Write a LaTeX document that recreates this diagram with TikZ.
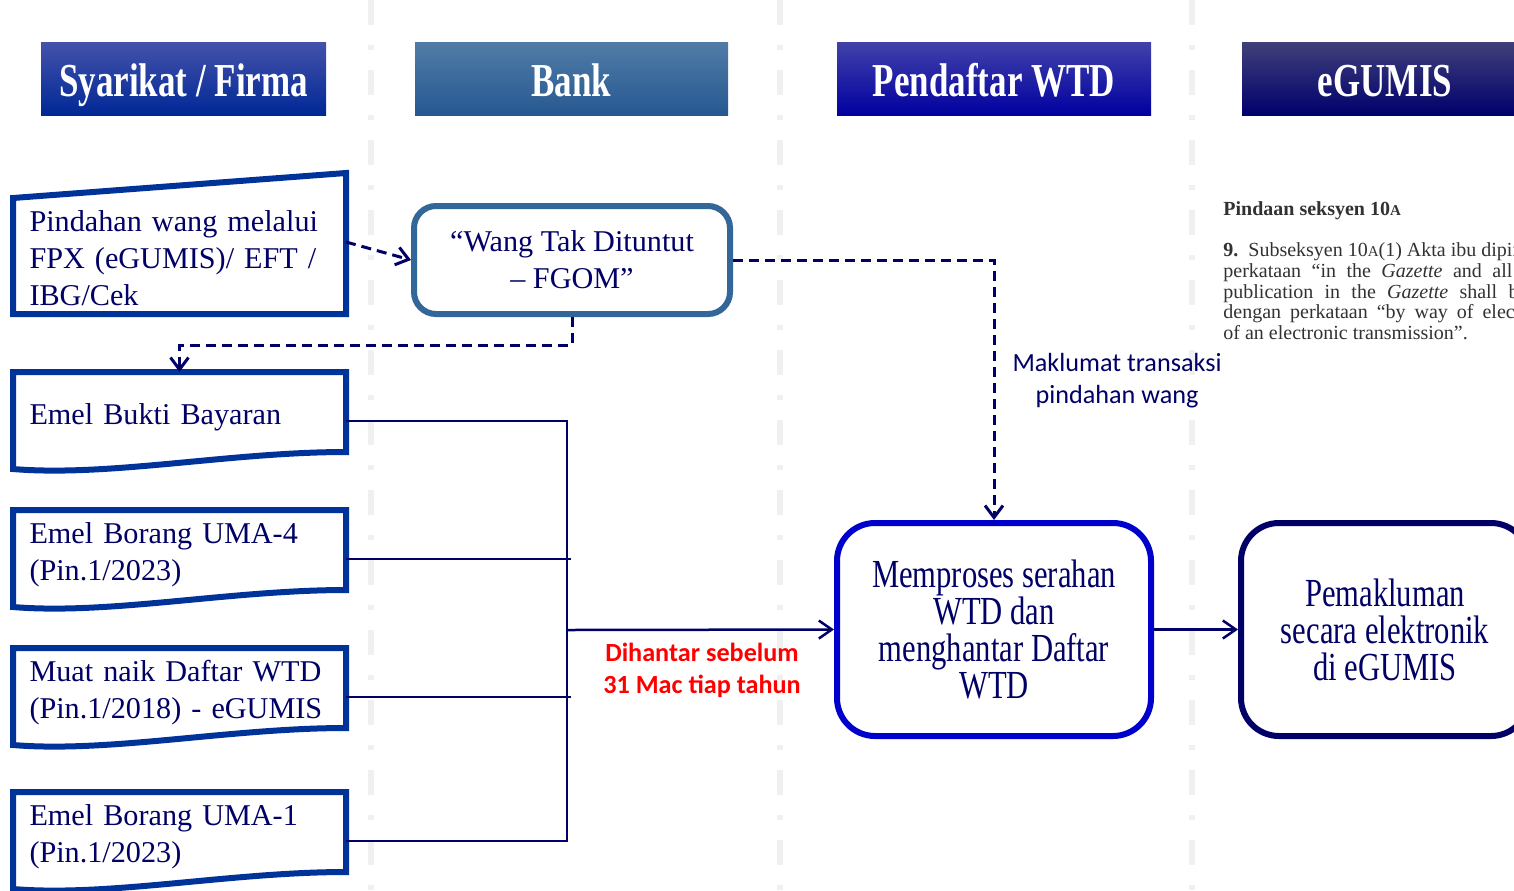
\documentclass[tikz,border=0pt]{standalone}
\usepackage{fontspec}
\setmainfont{Liberation Serif}
\newfontfamily\calibri{Carlito}
\usetikzlibrary{arrows.meta, positioning, calc}

\definecolor{docblue}{RGB}{0,51,153}
\definecolor{navyline}{RGB}{0,0,102}
\definecolor{bankblue}{RGB}{51,102,153}
\definecolor{procblue}{RGB}{0,0,204}
\definecolor{lanegray}{RGB}{240,240,240}
\definecolor{legalgray}{RGB}{50,50,50}
\definecolor{labelred}{RGB}{255,0,0}

\newcommand{\bodyfont}{\fontsize{15.1pt}{18.5pt}\selectfont}
\newcommand{\headfont}{\fontsize{17.5pt}{21pt}\selectfont\bfseries}
\newcommand{\legalfont}{\fontsize{10pt}{10.3pt}\selectfont}
\newcommand{\calfont}{\calibri\fontsize{13.1pt}{16pt}\selectfont}
\newcommand{\htext}[1]{\raisebox{-2.75pt}[14pt][2pt]{\scalebox{1}[1.35]{#1}}}
\newcommand{\tallbox}[1]{\scalebox{1}[1.3]{\parbox{140pt}{\centering
  \fontsize{15.3pt}{14.2pt}\selectfont #1}}}
\newcommand{\smA}{{\fontsize{7.5pt}{8pt}\selectfont A}}
\newcommand{\docoutline}[1]{%
  \draw[docline] (#1.north west) -- (#1.north east) -- (#1.south east)
    .. controls ([xshift=-58pt]#1.south east) and ([xshift=48pt,yshift=-12.5pt]#1.south west)
    .. ([yshift=-8.5pt]#1.south west) -- cycle;}

\tikzset{%
  lane/.style={draw=lanegray, line width=3pt, dash pattern=on 12.5pt off 10pt on 2.5pt off 10pt},
  header/.style={minimum height=36.5pt, inner sep=0pt, text=white, font=\headfont},
  doc/.style={minimum width=166.5pt, minimum height=40pt, text width=150pt,
    inner xsep=8.25pt, inner ysep=0pt, outer sep=0pt, align=left,
    font=\bodyfont, text=navyline},
  wavedoc/.style={doc, execute at begin node={\rule{0pt}{15.3pt}}},
  docline/.style={draw=docblue, line width=3pt, line join=miter},
  procbox/.style={rectangle, line width=3pt, minimum height=106.5pt,
    align=center, text=navyline, inner sep=0pt},
  dasharrow/.style={draw=navyline, line width=1.5pt, dash pattern=on 5pt off 3pt,
    -{Straight Barb[length=6pt,width=9pt]}},
  flow/.style={draw=navyline, line width=1.25pt},
  flowarrow/.style={flow, -{Straight Barb[length=6.5pt,width=9pt]}},
  legal/.style={font=\legalfont, text=legalgray, align=left, inner sep=0pt}
}

\begin{document}
\begin{tikzpicture}[x=0.5pt, y=-0.5pt]
  \useasboundingbox[fill=white] (0,0) rectangle (1514,890);

  % lane dividers
  \foreach \lx in {371,780,1192}
    \draw[lane] (\lx,0) -- (\lx,890);

  % headers
  \node[header, minimum width=142.5pt, top color={rgb,255:red,68;green,82;blue,170},
    bottom color={rgb,255:red,0;green,40;blue,150}] (hfirma) at (183.5,78.5) {\htext{Syarikat / Firma}};
  \node[header, minimum width=156.5pt, top color={rgb,255:red,80;green,124;blue,166},
    bottom color={rgb,255:red,38;green,88;blue,145}] (hbank) at (571.5,78.5) {\htext{Bank}};
  \node[header, minimum width=157pt, top color={rgb,255:red,66;green,66;blue,170},
    bottom color={rgb,255:red,0;green,0;blue,160}] (hwtd) at (994,78.5) {\htext{Pendaftar WTD}};
  \node[header, minimum width=143pt, top color={rgb,255:red,64;green,64;blue,122},
    bottom color={rgb,255:red,0;green,0;blue,108}] (hgumis) at (1385,78.5) {\htext{eGUMIS}};

  % syarikat documents
  \node[doc, minimum height=58pt, execute at begin node={\rule{0pt}{12.3pt}}] (fpx) at (179.5,256)
    {Pindahan wang melalui\\ FPX (eGUMIS)/ EFT /\\ IBG/Cek};
  \draw[docline] ([yshift=12.5pt]fpx.north east) -- (fpx.south east) -- (fpx.south west) -- (fpx.north west) -- cycle;

  \node[wavedoc] (ebb) at (179.5,412) {Emel Bukti Bayaran};
  \node[wavedoc, below=29pt of ebb] (uma4) {Emel Borang UMA-4\\ (Pin.1/2023)};
  \node[wavedoc, below=29pt of uma4] (daftar) {Muat naik Daftar WTD\\ (Pin.1/2018) - eGUMIS};
  \node[wavedoc, below=32pt of daftar] (uma1) {Emel Borang UMA-1\\ (Pin.1/2023)};
  \foreach \d in {ebb,uma4,daftar,uma1}
    {\docoutline{\d}}

  % bank, pendaftar, egumis
  \node[procbox, draw=bankblue, rounded corners=11pt, minimum width=158pt, minimum height=54pt,
    font=\bodyfont] (wtd) at (572,260) {“Wang Tak Dituntut\\ – FGOM”};
  \node[procbox, draw=procblue, rounded corners=19pt, minimum width=157pt] (proses) at (994,629.5)
    {\tallbox{Memproses serahan\\ WTD dan\\ menghantar Daftar\\ WTD}};
  \node[procbox, draw=navyline, rounded corners=19pt, minimum width=144pt] (notis) at (1385,629.5)
    {\tallbox{Pemakluman\\ secara elektronik\\ di eGUMIS}};

  \node[legal, anchor=north west] (pindaan) at (1223,201) {%
    \textbf{Pindaan seksyen 10\smA}\\[10.5pt]
    \textbf{9.}\ \ Subseksyen 10\smA(1) Akta ibu dipinda\\
    \makebox[144.5pt][s]{perkataan “in the \textit{Gazette} and all}\\
    \makebox[152pt][s]{publication in the \textit{Gazette} shall be}\\
    \makebox[169pt][s]{dengan perkataan “by way of electronic}\\
    of an electronic transmission”.};

  % labels
  \node[font=\calfont, text=navyline, align=center] (maklumat) at (1117,381) {Maklumat transaksi\\ pindahan wang};
  \node[font=\calfont\bfseries, text=labelred, align=center] (hantar) at (702,670) {Dihantar sebelum\\ 31 Mac tiap tahun};

  % connectors
  \coordinate (bus) at (567,630);
  \draw[dasharrow] ([yshift=7pt]fpx.east) -- (wtd.west);
  \draw[dasharrow] (wtd.south) -- ++(0,28) -| (ebb.north);
  \draw[dasharrow] (wtd.east) -| (proses.north);

  \draw[flow] ([yshift=-4.5pt]ebb.east) -| (bus) |- ([yshift=-4.5pt]uma1.east);
  \draw[flow] ([yshift=-4.5pt]uma4.east) -- ([yshift=-4.5pt,xshift=2pt]uma4.east -| bus);
  \draw[flow] ([yshift=-4.5pt]daftar.east) -- ([yshift=-4.5pt,xshift=2pt]daftar.east -| bus);
  \draw[flowarrow] (bus) -- (proses.west);
  \draw[flowarrow] (proses.east) -- (notis.west);
\end{tikzpicture}
\end{document}
